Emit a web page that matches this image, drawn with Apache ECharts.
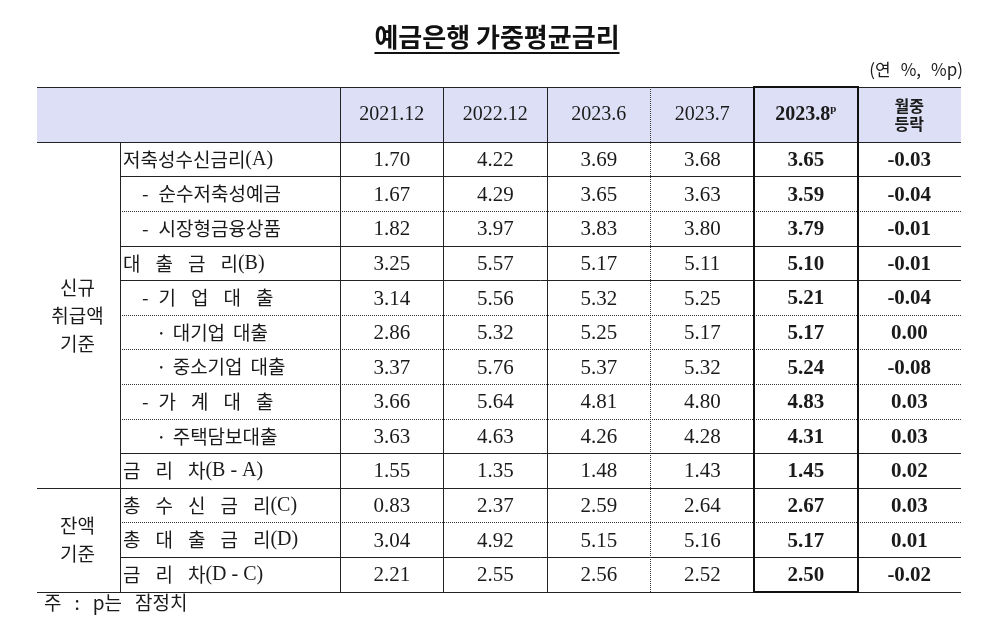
<!DOCTYPE html>
<html><head><meta charset="utf-8">
<script src="https://cdn.jsdelivr.net/npm/echarts@6/dist/echarts.min.js"></script>
<style>html,body{margin:0;padding:0;background:#fff}#main{width:994px;height:630px}</style>
</head><body><div id="main"></div>
<script>
// ---------------- data ----------------
const chartTitle = '예금은행 가중평균금리';
const unitNote = '(연 %, %p)';
const footNote = '주 : p는 잠정치';
const columnLabels = ['2021.12', '2022.12', '2023.6', '2023.7', '2023.8', '월중\n등락'];
const provisionalMark = 'p';
const groupLabels = ['신규\n취급액\n기준', '잔액\n기준'];
const groupRowCounts = [10, 3];
const rowLabels = [
  '저축성수신금리(A)',
  '- 순수저축성예금',
  '- 시장형금융상품',
  '대 출 금 리(B)',
  '- 기 업 대 출',
  '· 대기업 대출',
  '· 중소기업 대출',
  '- 가 계 대 출',
  '· 주택담보대출',
  '금 리 차(B - A)',
  '총 수 신 금 리(C)',
  '총 대 출 금 리(D)',
  '금 리 차(D - C)'
];
const rowLevels = [0, 1, 1, 0, 1, 2, 2, 1, 2, 0, 0, 0, 0];
const v2021_12 = [1.70, 1.67, 1.82, 3.25, 3.14, 2.86, 3.37, 3.66, 3.63, 1.55, 0.83, 3.04, 2.21];
const v2022_12 = [4.22, 4.29, 3.97, 5.57, 5.56, 5.32, 5.76, 5.64, 4.63, 1.35, 2.37, 4.92, 2.55];
const v2023_6  = [3.69, 3.65, 3.83, 5.17, 5.32, 5.25, 5.37, 4.81, 4.26, 1.48, 2.59, 5.15, 2.56];
const v2023_7  = [3.68, 3.63, 3.80, 5.11, 5.25, 5.17, 5.32, 4.80, 4.28, 1.43, 2.64, 5.16, 2.52];
const v2023_8  = [3.65, 3.59, 3.79, 5.10, 5.21, 5.17, 5.24, 4.83, 4.31, 1.45, 2.67, 5.17, 2.50];
const monthlyChange = [-0.03, -0.04, -0.01, -0.01, -0.04, 0.00, -0.08, 0.03, 0.03, 0.02, 0.03, 0.01, -0.02];

// ---------------- layout / style ----------------
const colWidths = [0.802, 2.126, 1, 1, 1, 1, 1, 1];
const headerHeight = 1.6;
const rowRules = ['solid','dotted','solid','solid','dotted','dotted','dotted','dotted','solid','solid','dotted','solid','solid'];
const colRules = ['solid','solid','solid','dotted','thick','thick'];
const levelIndent = [3, 22, 36];
const KFONT = '"Noto Sans CJK KR", sans-serif';
const NFONT = '"Liberation Serif", serif';
const INK = '#1a1a1a';
const HEADER_FILL = '#dddff6';
const RULE = {
  solid:  {w: 1, dash: null, color: '#222'},
  dotted: {w: 1, dash: [1, 1], color: '#333'},
  thick:  {w: 2, dash: null, color: '#111'}
};

const colEdges = [0];
colWidths.forEach(w => colEdges.push(colEdges[colEdges.length - 1] + w));
const rowEdges = [0, headerHeight];
rowLabels.forEach(() => rowEdges.push(rowEdges[rowEdges.length - 1] + 1));
const XE = colEdges[colEdges.length - 1];
const YE = rowEdges[rowEdges.length - 1];

const dataCols = [v2021_12, v2022_12, v2023_6, v2023_7, v2023_8, monthlyChange];

// ---------------- cells ----------------
const cells = [];
cells.push({x0: colEdges[0], x1: colEdges[2], y0: 0, y1: rowEdges[1], kind: 'headerBlank', text: ''});
columnLabels.forEach((t, i) => {
  cells.push({x0: colEdges[i + 2], x1: colEdges[i + 3], y0: 0, y1: rowEdges[1],
    kind: i === 4 ? 'headerP' : (i === 5 ? 'headerK' : 'header'), text: t});
});
let gStart = 0;
const groupEndRows = new Set();
groupLabels.forEach((g, gi) => {
  const n = groupRowCounts[gi];
  cells.push({x0: colEdges[0], x1: colEdges[1], y0: rowEdges[1 + gStart], y1: rowEdges[1 + gStart + n], kind: 'group', text: g});
  gStart += n;
  groupEndRows.add(gStart - 1);
});
rowLabels.forEach((t, r) => {
  cells.push({x0: colEdges[1], x1: colEdges[2], y0: rowEdges[r + 1], y1: rowEdges[r + 2], kind: 'label', level: rowLevels[r], text: t});
});
dataCols.forEach((arr, c) => arr.forEach((v, r) => {
  cells.push({x0: colEdges[c + 2], x1: colEdges[c + 3], y0: rowEdges[r + 1], y1: rowEdges[r + 2],
    kind: c >= 4 ? 'valueBold' : 'value', text: v.toFixed(2)});
}));

// ---------------- rules ----------------
const rules = [];
rules.push({x0: 0, y0: 0, x1: XE, y1: 0, s: 'solid'});
rules.push({x0: 0, y0: rowEdges[1], x1: XE, y1: rowEdges[1], s: 'solid'});
rowRules.forEach((s, r) => {
  const y = rowEdges[r + 2];
  const ge = groupEndRows.has(r);
  rules.push({x0: ge ? 0 : colEdges[1], y0: y, x1: XE, y1: y, s: ge ? 'solid' : s});
});
rules.push({x0: colEdges[1], y0: rowEdges[1], x1: colEdges[1], y1: YE, s: 'solid'});
colRules.forEach((s, i) => {
  rules.push({x0: colEdges[i + 2], y0: 0, x1: colEdges[i + 2], y1: YE, s: s});
});
rules.push({x0: colEdges[6], y0: 0, x1: colEdges[7], y1: 0, s: 'thick'});
rules.push({x0: colEdges[6], y0: YE, x1: colEdges[7], y1: YE, s: 'thick'});

// spaced text -> rich tokens with gap widths
function gapWidth(prev, next) {
  if (prev === '-') return 10;
  if (prev === '·') return 6;
  if (prev.length === 1 && next.length === 1) return 15;
  return 8;
}
function labelRich(t) {
  const k = t.indexOf('(');
  const head = k < 0 ? t : t.slice(0, k);
  const tail = k < 0 ? '' : t.slice(k);
  const parts = head.split(' ').filter(p => p.length);
  let s = '';
  parts.forEach((p, i) => {
    if (i > 0) s += '{g' + gapWidth(parts[i - 1], p) + '| }';
    s += '{t|' + p + '}';
  });
  if (tail) s += '{n|' + tail + '}';
  return s;
}
const labelRichStyles = {
  t: {fontFamily: KFONT, fontSize: 19, fill: INK},
  n: {fontFamily: NFONT, fontSize: 20, fill: INK}
};
[6, 8, 10, 15].forEach(w => { labelRichStyles['g' + w] = {width: w, fontSize: 19}; });

function spacedRich(t, gap, style) {
  return t.split(' ').map(p => '{t|' + p + '}').join('{g| }');
}

function renderCell(params, api) {
  const c = cells[params.dataIndex];
  const a = api.coord([api.value(0), api.value(1)]);
  const b = api.coord([api.value(2), api.value(3)]);
  const x = a[0], y = a[1], w = b[0] - a[0], h = b[1] - a[1];
  const ch = [];
  if (c.kind.indexOf('header') === 0) {
    ch.push({type: 'rect', shape: {x: x, y: y, width: w, height: h}, style: {fill: HEADER_FILL}});
  }
  const cx = x + w / 2, cy = y + h / 2;
  let st = null;
  switch (c.kind) {
    case 'header':
      st = {text: c.text, x: cx, y: cy, fontFamily: NFONT, fontSize: 20, fill: INK}; break;
    case 'headerP':
      st = {text: '{b|' + c.text + '}{s|' + provisionalMark + '}', x: cx, y: cy,
        rich: {b: {fontFamily: NFONT, fontSize: 20, fontWeight: 'bold', fill: INK, lineHeight: 22},
               s: {fontFamily: NFONT, fontSize: 11, fontWeight: 'bold', fill: INK, verticalAlign: 'top', lineHeight: 14}}}; break;
    case 'headerK':
      st = {text: c.text, x: cx, y: cy, fontFamily: KFONT, fontSize: 16, fontWeight: 'bold', lineHeight: 18, fill: INK}; break;
    case 'group':
      st = {text: c.text, x: cx - 1, y: cy, fontFamily: KFONT, fontSize: 19, lineHeight: 28, fill: INK}; break;
    case 'label':
      st = {text: labelRich(c.text), x: x + levelIndent[c.level], y: cy, align: 'left', rich: labelRichStyles}; break;
    case 'value':
      st = {text: c.text, x: cx, y: cy + 1, fontFamily: NFONT, fontSize: 21, fill: INK}; break;
    case 'valueBold':
      st = {text: c.text, x: cx, y: cy + 1, fontFamily: NFONT, fontSize: 21, fontWeight: 'bold', fill: INK}; break;
  }
  if (st) {
    if (!st.align) st.align = 'center';
    st.verticalAlign = 'middle';
    ch.push({type: 'text', style: st});
  }
  return {type: 'group', children: ch};
}

function snap(v, w) { return w % 2 === 1 ? Math.round(v - 0.5) + 0.5 : Math.round(v); }

function renderRule(params, api) {
  const r = rules[params.dataIndex];
  const st = RULE[r.s];
  const a = api.coord([api.value(0), api.value(1)]);
  const b = api.coord([api.value(2), api.value(3)]);
  let x1 = a[0], y1 = a[1], x2 = b[0], y2 = b[1];
  if (Math.abs(x1 - x2) < 0.01) { x1 = x2 = snap(x1, st.w); y1 = Math.round(y1); y2 = Math.round(y2); }
  else { y1 = y2 = snap(y1, st.w); x1 = Math.round(x1); x2 = Math.round(x2);
    if (r.s === 'thick') { x1 -= 1; x2 += 1; } }
  return {type: 'line', shape: {x1: x1, y1: y1, x2: x2, y2: y2},
    style: {stroke: st.color, lineWidth: st.w, lineDash: st.dash}};
}

// title underline width
const mctx = document.createElement('canvas').getContext('2d');
const TITLE_FONT = 'bold 26px ' + KFONT;
mctx.font = TITLE_FONT;
const titleW = mctx.measureText(chartTitle).width;
const TITLE_CX = 497;

const chart = echarts.init(document.getElementById('main'), null, {renderer: 'canvas'});
chart.setOption({
  backgroundColor: '#fff',
  animation: false,
  grid: {left: 37, right: 33, top: 87, bottom: 38},
  xAxis: {type: 'value', min: 0, max: XE, show: false},
  yAxis: {type: 'value', min: 0, max: YE, inverse: true, show: false},
  graphic: [
    {type: 'text', x: TITLE_CX, y: 37, style: {text: chartTitle, font: TITLE_FONT, fill: '#111', align: 'center', verticalAlign: 'middle'}},
    {type: 'line', shape: {x1: TITLE_CX - titleW / 2, y1: 53, x2: TITLE_CX + titleW / 2, y2: 53}, style: {stroke: '#111', lineWidth: 2}},
    {type: 'text', x: 963, y: 70, style: {text: spacedRich(unitNote), align: 'right', verticalAlign: 'middle',
      rich: {t: {fontFamily: KFONT, fontSize: 17, fill: INK}, g: {width: 10, fontSize: 17}}}},
    {type: 'text', x: 44, y: 603, style: {text: spacedRich(footNote), align: 'left', verticalAlign: 'middle',
      rich: {t: {fontFamily: KFONT, fontSize: 19, fill: INK}, g: {width: 13, fontSize: 19}}}}
  ],
  series: [
    {type: 'custom', name: 'cells', coordinateSystem: 'cartesian2d', clip: false, z: 2,
      encode: {x: [0, 2], y: [1, 3]},
      data: cells.map(c => [c.x0, c.y0, c.x1, c.y1]), renderItem: renderCell, silent: true},
    {type: 'custom', name: 'rules', coordinateSystem: 'cartesian2d', clip: false, z: 3,
      encode: {x: [0, 2], y: [1, 3]},
      data: rules.map(r => [r.x0, r.y0, r.x1, r.y1]), renderItem: renderRule, silent: true}
  ]
});
</script>
</body></html>
